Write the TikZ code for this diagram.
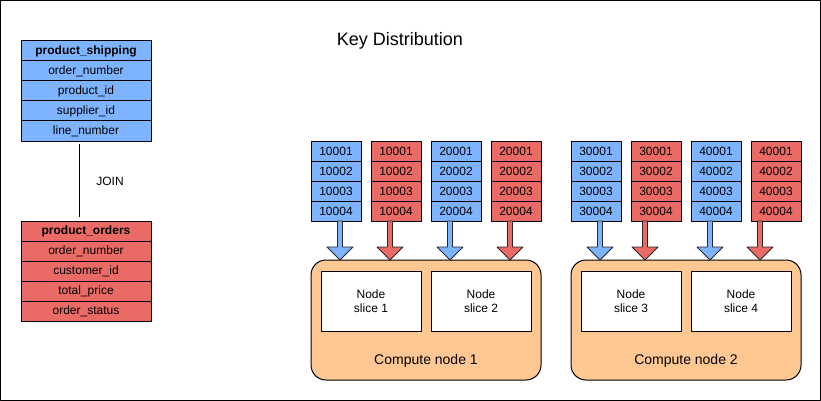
\documentclass[tikz,border=0pt]{standalone}
\usepackage{fontspec}
\setmainfont{Liberation Sans}
\usetikzlibrary{positioning,calc}
\definecolor{keyblue}{HTML}{7EB4FF}
\definecolor{keyred}{HTML}{EA6B66}
\definecolor{nodeorange}{HTML}{FFC791}

\begin{document}
\begin{tikzpicture}[x=1pt, y=-1pt, line join=round, line width=1pt,
	cell/.style={draw, minimum width=#1, minimum height=20pt, inner sep=0pt, outer sep=0pt, font=\fontsize{12}{14}\selectfont},
	cell/.default=130pt,
	slice/.style={draw, fill=white, minimum width=100pt, minimum height=60pt, align=center, inner sep=0pt, font=\fontsize{12}{14}\selectfont},
	compute/.style={draw, fill=nodeorange, rounded corners=15pt, minimum width=230pt, minimum height=120pt, inner sep=0pt},
	keyarrow/.style={draw=black!85, line width=0.8pt}]
	\useasboundingbox (0,0) rectangle (821,401);
	\draw (0.5,0.5) rectangle (820.5,400.5);
	
	\node[font=\fontsize{18}{20}\selectfont] (title) at (400,41) {Key Distribution};
	
	% tables
	\node[cell, fill=keyblue, font=\fontsize{12}{14}\selectfont\bfseries] (ship1) at (86,51) {product\_shipping};
	\node[cell, fill=keyblue, below=0pt of ship1] (ship2) {order\_number};
	\node[cell, fill=keyblue, below=0pt of ship2] (ship3) {product\_id};
	\node[cell, fill=keyblue, below=0pt of ship3] (ship4) {supplier\_id};
	\node[cell, fill=keyblue, below=0pt of ship4] (ship5) {line\_number};
	
	\node[cell, fill=keyred, font=\fontsize{12}{14}\selectfont\bfseries] (ord1) at (86,231) {product\_orders};
	\node[cell, fill=keyred, below=0pt of ord1] (ord2) {order\_number};
	\node[cell, fill=keyred, below=0pt of ord2] (ord3) {customer\_id};
	\node[cell, fill=keyred, below=0pt of ord3] (ord4) {total\_price};
	\node[cell, fill=keyred, below=0pt of ord4] (ord5) {order\_status};
	
	\draw ($(ship5.south)+(-7,3)$) -- ($(ord1.north)+(-7,-4)$);
	\node[font=\fontsize{12}{14}\selectfont] (join) at (110,181) {JOIN};
	
	% compute nodes
	\node[compute] (cn1) at (426,320) {};
	\node[compute] (cn2) at (686,320) {};
	\node[slice] (sl1) at (371,301) {Node\\slice 1};
	\node[slice] (sl2) at (481,301) {Node\\slice 2};
	\node[slice] (sl3) at (631,301) {Node\\slice 3};
	\node[slice] (sl4) at (741,301) {Node\\slice 4};
	\node[font=\fontsize{14}{16}\selectfont] (cnl1) at (426,361) {Compute node 1};
	\node[font=\fontsize{14}{16}\selectfont] (cnl2) at (686,361) {Compute node 2};
	
	% key columns and arrows
	\foreach \n/\x/\k/\c/\dx in {1/336/1/keyblue/4, 2/396/1/keyred/-6, 3/456/2/keyblue/-6, 4/516/2/keyred/-6,
		5/596/3/keyblue/4, 6/656/3/keyred/-11, 7/716/4/keyblue/-6, 8/776/4/keyred/-16}{
		\node[cell=50pt, fill=\c] (k\n-1) at (\x,151) {\k0001};
		\node[cell=50pt, fill=\c, below=0pt of k\n-1] (k\n-2) {\k0002};
		\node[cell=50pt, fill=\c, below=0pt of k\n-2] (k\n-3) {\k0003};
		\node[cell=50pt, fill=\c, below=0pt of k\n-3] (k\n-4) {\k0004};
		\filldraw[keyarrow, fill=\c] ($(k\n-4.south)+(\dx-2.5,0)$) -- ++(0,26) -- ++(-10.5,0) -- ++(13,13)
			-- ++(13,-13) -- ++(-10.5,0) -- ++(0,-26) -- cycle;
	}
\end{tikzpicture}
\end{document}
